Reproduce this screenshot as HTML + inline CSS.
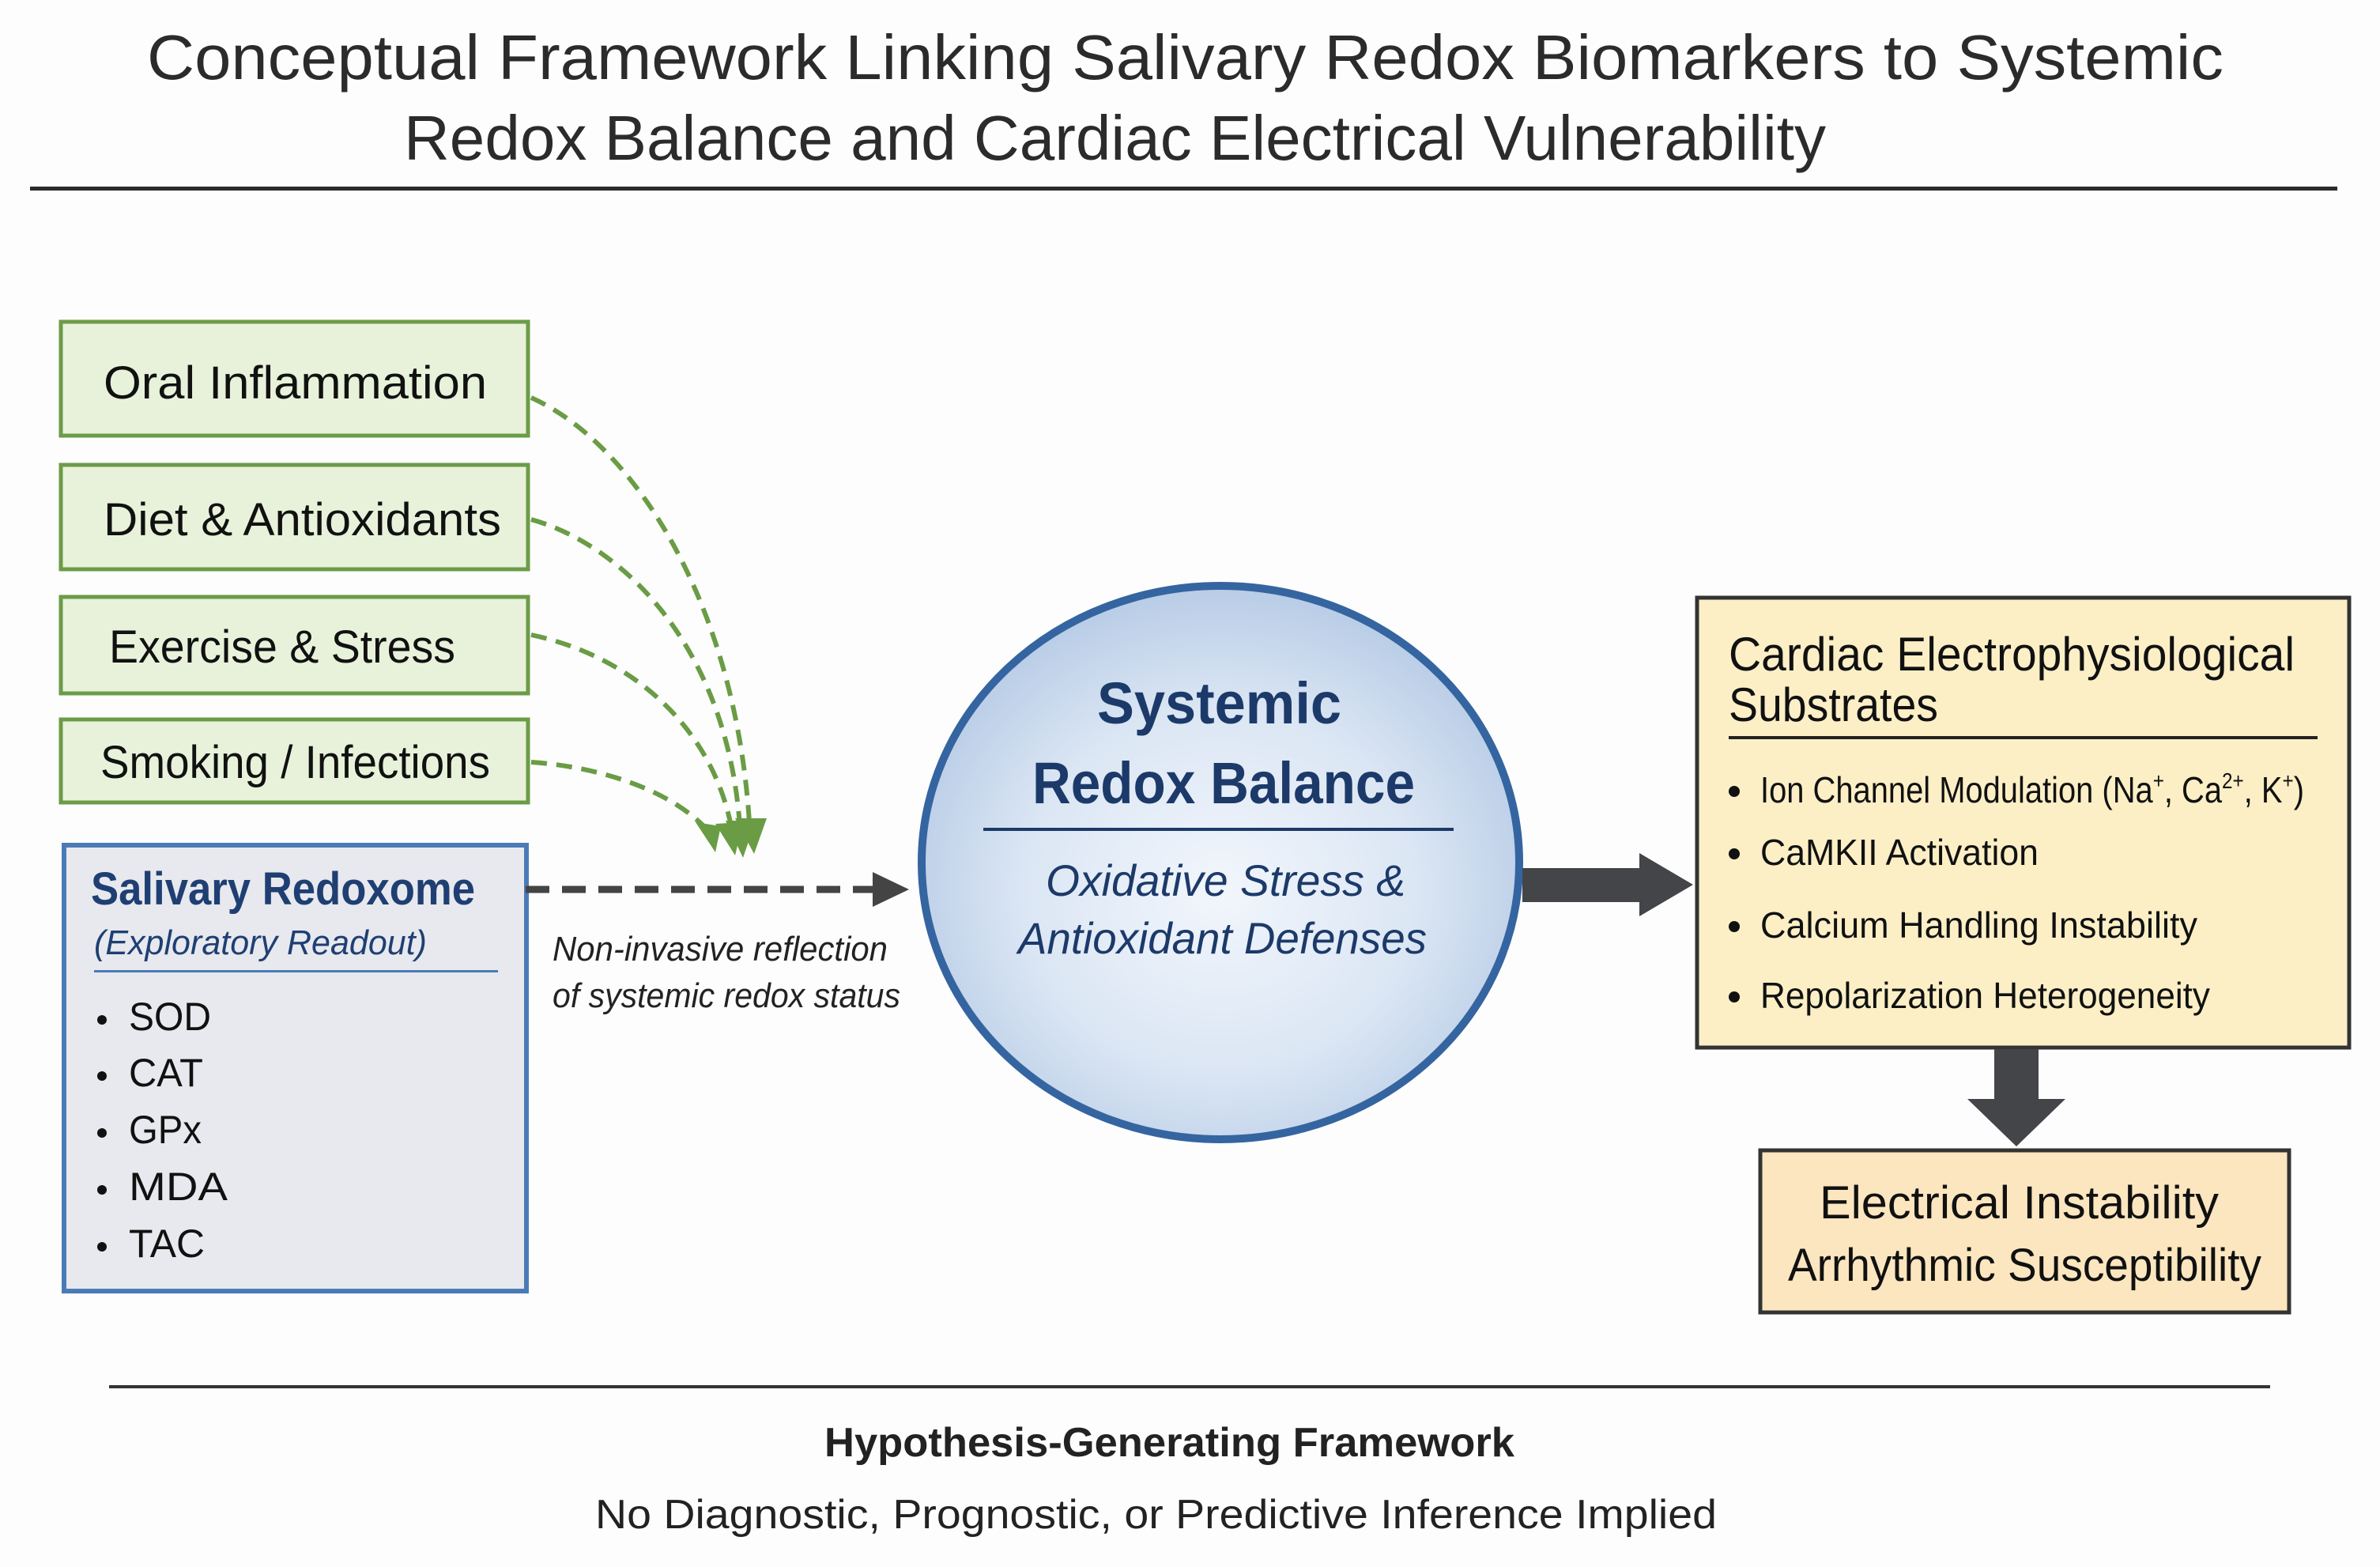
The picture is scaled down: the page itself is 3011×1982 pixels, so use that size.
<!DOCTYPE html>
<html><head><meta charset="utf-8"><style>
html,body{margin:0;padding:0;background:#fdfdfd;}
svg{display:block;}
text{font-family:"Liberation Sans",sans-serif;}
</style></head><body>
<svg width="3011" height="1982" viewBox="0 0 3011 1982" xmlns="http://www.w3.org/2000/svg">
<defs>
<radialGradient id="cg" cx="50%" cy="55%" r="55%">
<stop offset="0" stop-color="#f2f6fc"/><stop offset="0.6" stop-color="#dbe6f4"/><stop offset="1" stop-color="#b8cce6"/>
</radialGradient>
<marker id="ga" markerWidth="10" markerHeight="10" refX="6" refY="5" orient="auto" markerUnits="userSpaceOnUse" viewBox="0 0 10 10">
</marker>
</defs>
<rect width="3011" height="1982" fill="#fdfdfd"/>
<!-- title -->
<text x="186" y="100" font-size="80" fill="#2b2b2b" textLength="2627" lengthAdjust="spacingAndGlyphs">Conceptual Framework Linking Salivary Redox Biomarkers to Systemic</text>
<text x="511" y="202" font-size="80" fill="#2b2b2b" textLength="1799" lengthAdjust="spacingAndGlyphs">Redox Balance and Cardiac Electrical Vulnerability</text>
<rect x="38" y="236" width="2919" height="5" fill="#2b2b2b"/>

<!-- green boxes -->
<g fill="#e8f2da" stroke="#6b9c48" stroke-width="5">
<rect x="77" y="407" width="591" height="144"/>
<rect x="77" y="588" width="591" height="132"/>
<rect x="77" y="755" width="591" height="122"/>
<rect x="77" y="910" width="591" height="105"/>
</g>
<g font-size="58" fill="#111">
<text x="131" y="504" textLength="485" lengthAdjust="spacingAndGlyphs">Oral Inflammation</text>
<text x="131" y="677" textLength="503" lengthAdjust="spacingAndGlyphs">Diet &amp; Antioxidants</text>
<text x="138" y="838" textLength="438" lengthAdjust="spacingAndGlyphs">Exercise &amp; Stress</text>
<text x="127" y="984" textLength="493" lengthAdjust="spacingAndGlyphs">Smoking / Infections</text>
</g>
<!-- green dashed curves -->
<g fill="none" stroke="#6a9c45" stroke-width="6" stroke-dasharray="20 12">
<path d="M672 503 C800 560 930 760 948 1040"/>
<path d="M672 657 C790 690 920 820 936 1045"/>
<path d="M672 803 C800 830 900 920 925 1045"/>
<path d="M672 964 C760 970 850 1000 895 1050"/>
</g>
<g fill="#6a9c45">
<polygon points="930,1035 970,1035 954,1080"/>
<polygon points="918,1038 956,1038 940,1085"/>
<polygon points="905,1042 940,1040 930,1082"/>
<polygon points="880,1040 912,1045 905,1078"/>
</g>

<!-- salivary box -->
<rect x="81" y="1069" width="585" height="564" fill="#e7e9ee" stroke="#4a7bb7" stroke-width="6"/>
<text x="115" y="1144" font-size="58" font-weight="bold" fill="#1f3f73" textLength="486" lengthAdjust="spacingAndGlyphs">Salivary Redoxome</text>
<text x="119" y="1207" font-size="44" font-style="italic" fill="#1f3f73" textLength="421" lengthAdjust="spacingAndGlyphs">(Exploratory Readout)</text>
<rect x="119" y="1227" width="511" height="3" fill="#4a7bb7"/>
<g font-size="50" fill="#111">
<circle cx="129" cy="1290" r="6"/><text x="163" y="1303" textLength="104" lengthAdjust="spacingAndGlyphs">SOD</text>
<circle cx="129" cy="1361" r="6"/><text x="163" y="1374" textLength="94" lengthAdjust="spacingAndGlyphs">CAT</text>
<circle cx="129" cy="1433" r="6"/><text x="163" y="1446" textLength="92" lengthAdjust="spacingAndGlyphs">GPx</text>
<circle cx="129" cy="1505" r="6"/><text x="163" y="1518" textLength="125" lengthAdjust="spacingAndGlyphs">MDA</text>
<circle cx="129" cy="1577" r="6"/><text x="163" y="1590" textLength="96" lengthAdjust="spacingAndGlyphs">TAC</text>
</g>

<!-- dashed arrow -->
<line x1="665" y1="1125" x2="1108" y2="1125" stroke="#444" stroke-width="9" stroke-dasharray="30 16"/>
<polygon points="1104,1103 1150,1125 1104,1147" fill="#444"/>
<g font-size="44" font-style="italic" fill="#222">
<text x="699" y="1215" textLength="424" lengthAdjust="spacingAndGlyphs">Non-invasive reflection</text>
<text x="699" y="1274" textLength="440" lengthAdjust="spacingAndGlyphs">of systemic redox status</text>
</g>

<!-- circle -->
<ellipse cx="1544" cy="1091" rx="378" ry="350" fill="url(#cg)" stroke="#3565a0" stroke-width="10"/>
<text x="1388" y="915" font-size="74" font-weight="bold" fill="#1c3a69" textLength="309" lengthAdjust="spacingAndGlyphs">Systemic</text>
<text x="1306" y="1016" font-size="74" font-weight="bold" fill="#1c3a69" textLength="484" lengthAdjust="spacingAndGlyphs">Redox Balance</text>
<rect x="1244" y="1047" width="595" height="4" fill="#1c3a69"/>
<text x="1323" y="1133" font-size="56" font-style="italic" fill="#1c3a69" textLength="455" lengthAdjust="spacingAndGlyphs">Oxidative Stress &amp;</text>
<text x="1288" y="1206" font-size="56" font-style="italic" fill="#1c3a69" textLength="517" lengthAdjust="spacingAndGlyphs">Antioxidant Defenses</text>

<!-- right arrow -->
<polygon points="1926,1098 2074,1098 2074,1079 2142,1119 2074,1159 2074,1141 1926,1141" fill="#434549"/>

<!-- cardiac box -->
<rect x="2147" y="756" width="825" height="569" fill="#fcefc6" stroke="#333" stroke-width="5"/>
<text x="2187" y="848" font-size="60" fill="#111" textLength="716" lengthAdjust="spacingAndGlyphs">Cardiac Electrophysiological</text>
<text x="2187" y="912" font-size="60" fill="#111" textLength="265" lengthAdjust="spacingAndGlyphs">Substrates</text>
<rect x="2187" y="931" width="745" height="4" fill="#222"/>
<g font-size="46" fill="#111">
<circle cx="2194" cy="1001" r="7"/><text x="2227" y="1015" textLength="688" lengthAdjust="spacingAndGlyphs">Ion Channel Modulation (Na<tspan font-size="28" dy="-18">+</tspan><tspan dy="18">, Ca</tspan><tspan font-size="28" dy="-18">2+</tspan><tspan dy="18">, K</tspan><tspan font-size="28" dy="-18">+</tspan><tspan dy="18">)</tspan></text>
<circle cx="2194" cy="1080" r="7"/><text x="2227" y="1094" textLength="352" lengthAdjust="spacingAndGlyphs">CaMKII Activation</text>
<circle cx="2194" cy="1172" r="7"/><text x="2227" y="1186" textLength="553" lengthAdjust="spacingAndGlyphs">Calcium Handling Instability</text>
<circle cx="2194" cy="1261" r="7"/><text x="2227" y="1275" textLength="569" lengthAdjust="spacingAndGlyphs">Repolarization Heterogeneity</text>
</g>

<!-- down arrow -->
<polygon points="2523,1327 2579,1327 2579,1390 2613,1390 2551,1450 2489,1390 2523,1390" fill="#434549"/>

<!-- electrical box -->
<rect x="2227" y="1455" width="669" height="205" fill="#fbe6bf" stroke="#333" stroke-width="5"/>
<text x="2302" y="1541" font-size="58" fill="#111" textLength="505" lengthAdjust="spacingAndGlyphs">Electrical Instability</text>
<text x="2262" y="1620" font-size="58" fill="#111" textLength="599" lengthAdjust="spacingAndGlyphs">Arrhythmic Susceptibility</text>

<!-- footer -->
<rect x="138" y="1752" width="2734" height="4" fill="#333"/>
<text x="1043" y="1842" font-size="52" font-weight="bold" fill="#222" textLength="873" lengthAdjust="spacingAndGlyphs">Hypothesis-Generating Framework</text>
<text x="753" y="1933" font-size="52" fill="#222" textLength="1419" lengthAdjust="spacingAndGlyphs">No Diagnostic, Prognostic, or Predictive Inference Implied</text>
</svg>
</body></html>
